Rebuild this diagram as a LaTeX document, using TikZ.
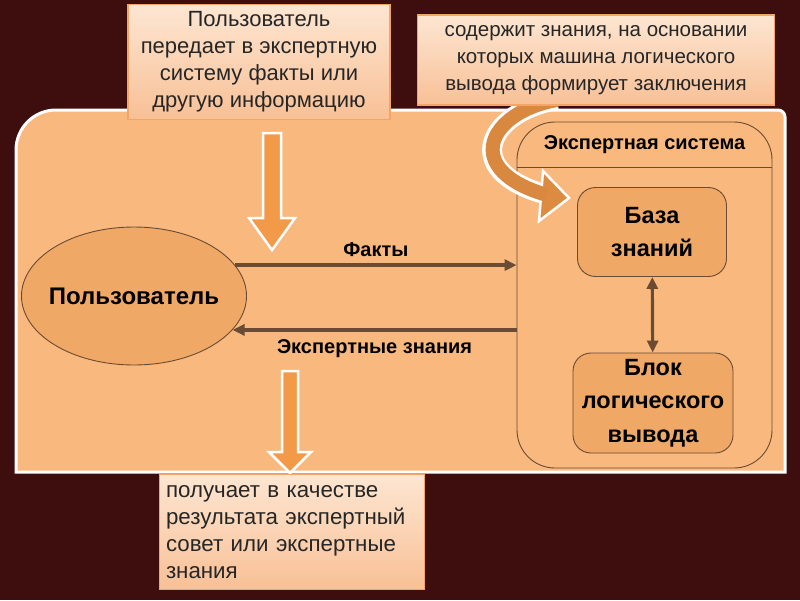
\documentclass[tikz,border=0pt]{standalone}
\usepackage{fontspec}
\setmainfont{Liberation Sans}
\usepackage{xcolor}
\usepackage{tikz}
\usetikzlibrary{positioning,arrows.meta,shapes.geometric}

\definecolor{bgcol}{HTML}{3E0E0F}
\definecolor{panelcol}{HTML}{F9B97E}
\definecolor{boxcol}{HTML}{EFA866}
\definecolor{linecol}{HTML}{6A4B33}
\definecolor{arrcol}{HTML}{F39A48}
\definecolor{curvecol}{HTML}{D98840}
\definecolor{notecol}{HTML}{F3A566}
\definecolor{notetop}{HTML}{FDE6D2}
\definecolor{notebot}{HTML}{F8C096}
\definecolor{textcol}{HTML}{262626}

\begin{document}
\begin{tikzpicture}[x=1pt, y=-1pt, >={Triangle[length=12pt,width=11pt]},
		note/.style={draw=notecol, line width=1.2pt, top color=notetop, bottom color=notebot, text=textcol, font=\fontsize{22}{27}\selectfont, inner sep=4pt},
		part/.style={draw=linecol, line width=0.9pt, fill=boxcol, text=black, inner sep=2pt, align=center, font=\bfseries\fontsize{23.5}{33.5}\selectfont},
		flow/.style={draw=linecol, line width=3.2pt, ->},
		lbl/.style={text=black, inner sep=2pt, font=\bfseries\fontsize{20}{22}\selectfont},
		fat/.style={fill=arrcol, draw=white, line width=2.5pt, line join=miter}]
		\fill[bgcol] (0,0) rectangle (800,600);
		\filldraw[fill=panelcol, draw=white, line width=3pt] (16,472) -- (16,150) arc[start angle=180, end angle=270, radius=40] -- (778,110) arc[start angle=270, end angle=360, radius=7] -- (785,472) -- cycle;

		\node[part, ellipse, minimum width=225pt, minimum height=138pt, inner xsep=-8pt, inner ysep=0pt, font=\bfseries\fontsize{24}{30}\selectfont] (user) at (134,296) {Пользователь};
		\node[draw=linecol, line width=0.9pt, rounded corners=38pt, minimum width=255pt, minimum height=346pt] (es) at (644.5,295) {};
		\node[lbl] (estitle) at ([yshift=-23pt]es.north) {Экспертная система};
		\draw[linecol, line width=0.9pt] ([yshift=-46pt]es.north west) -- ([yshift=-46pt]es.north east);
		\node[part, rounded corners=18pt, minimum width=149pt, minimum height=89pt] (kb) at (652,232) {База\\знаний};
		\node[part, rounded corners=18pt, minimum width=160pt, minimum height=100pt] (inf) at (653,403) {Блок\\логического\\вывода};

		\draw[flow] (user.17) -- (user.17 -| es.west) node[lbl, midway, above=5pt] (facts) {Факты};
		\draw[flow] (user.-19 -| es.west) -- (user.-19) node[lbl, midway, below=6pt] (advice) {Экспертные знания};
		\draw[flow, <->] (kb) -- (inf);

		\draw[fat] (263,133) -- (281,133) -- (281,218) -- (295,218) -- (272,250) -- (249,218) -- (263,218) -- cycle;
		\draw[fat] (282,371) -- (298,371) -- (298,452) -- (311,452) -- (290,473) -- (269,452) -- (282,452) -- cycle;

		\draw[white, line width=20pt] (557,100) .. controls (488,112) and (460,170) .. (544,194);
		\draw[fill=curvecol!85!arrcol, draw=white, line width=2.5pt, line join=miter] (543,171) -- (569,198) -- (539,221) -- cycle;
		\draw[curvecol, line width=14pt] (557,100) .. controls (488,112) and (460,170) .. (547,195);

		\node[note, minimum width=262pt, minimum height=115pt, align=center] (usernote) at (259,62) {Пользователь\\передает в экспертную\\систему факты или\\другую информацию};
		\node[note, minimum width=357pt, minimum height=90pt, align=center, font=\fontsize{20.5}{27}\selectfont] (kbnote) at (596,60) {содержит знания, на основании\\которых машина логического\\вывода формирует заключения};
		\node[note, minimum width=265pt, minimum height=115pt, text width=252pt, align=left, font=\fontsize{22.3}{27}\selectfont] (resultnote) at (292,532) {получает в качестве\\результата экспертный\\совет или экспертные\\знания};
	\end{tikzpicture}
\end{document}
